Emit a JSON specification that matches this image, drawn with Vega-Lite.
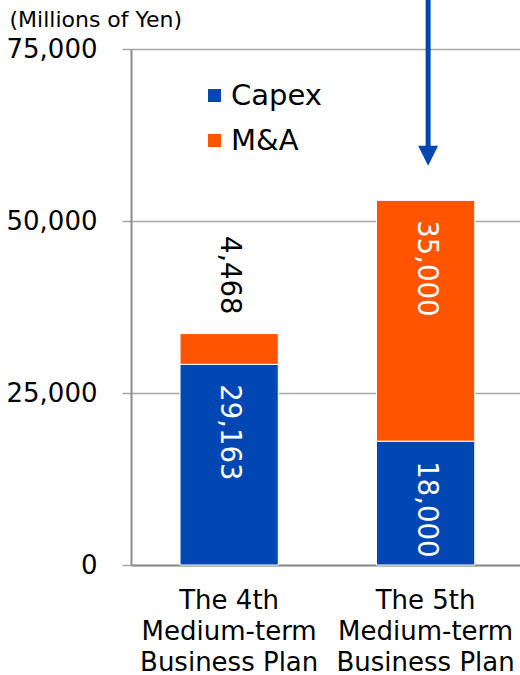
{
  "$schema": "https://vega.github.io/schema/vega-lite/v6.json",
  "autosize": "none",
  "width": 389,
  "height": 516,
  "padding": {"left": 131, "top": 49, "right": 0, "bottom": 110},
  "background": "white",
  "config": {
    "view": {"stroke": null},
    "font": "DejaVu Sans",
    "axis": {"labelFont": "DejaVu Sans", "titleFont": "DejaVu Sans"},
    "legend": {"labelFont": "DejaVu Sans"}
  },
  "datasets": {
    "plans": [
      {"plan": "The 4th Medium-term Business Plan", "type": "Capex", "value": 29163},
      {"plan": "The 4th Medium-term Business Plan", "type": "M&A", "value": 4468},
      {"plan": "The 5th Medium-term Business Plan", "type": "Capex", "value": 18000},
      {"plan": "The 5th Medium-term Business Plan", "type": "M&A", "value": 35000}
    ],
    "arrow": [
      {"plan": "The 5th Medium-term Business Plan", "top": 85000, "bottom": 60800, "tip": 59500}
    ]
  },
  "layer": [
    {
      "data": {"name": "plans"},
      "transform": [
        {"stack": "value", "groupby": ["plan"], "sort": [{"field": "type", "order": "ascending"}], "as": ["y0", "y1"]}
      ],
      "mark": {"type": "bar", "stroke": "white", "strokeWidth": 1},
      "encoding": {
        "x": {
          "field": "plan", "type": "nominal",
          "scale": {"paddingInner": 0.5, "paddingOuter": 0.24, "align": 0.52},
          "axis": {
            "title": null, "labelAngle": 0, "ticks": false, "domain": true,
            "domainColor": "#8c8c8c", "domainWidth": 2,
            "labelFontSize": 26, "labelColor": "#000000", "labelPadding": 22,
            "labelLineHeight": 31, "labelBaseline": "top",
            "labelExpr": "[slice(datum.label,0,7), slice(datum.label,8,19), slice(datum.label,20)]"
          }
        },
        "y": {
          "field": "y0", "type": "quantitative",
          "scale": {"domain": [0, 75000], "nice": false},
          "axis": {
            "values": [0, 25000, 50000, 75000], "format": ",.0f",
            "grid": true, "gridColor": "#a6a6a6", "gridWidth": 1.5,
            "domainColor": "#8c8c8c", "domainWidth": 2,
            "tickColor": "#a6a6a6", "tickSize": 9, "tickWidth": 1.5,
            "labelFontSize": 26, "labelColor": "#000000", "labelPadding": 25,
            "title": "(Millions of Yen)", "titleAngle": 0, "titleAlign": "left",
            "titleBaseline": "alphabetic", "titleX": -122, "titleY": -23,
            "titleFontSize": 22, "titleFontWeight": "normal", "titleColor": "#000000"
          }
        },
        "y2": {"field": "y1"},
        "color": {
          "field": "type", "type": "nominal",
          "scale": {"domain": ["Capex", "M&A"], "range": ["#0047B4", "#FF5500"]},
          "legend": {
            "title": null, "orient": "none", "legendX": 69, "legendY": 32,
            "padding": 0, "symbolType": "square", "symbolSize": 169,
            "symbolStrokeWidth": 0, "labelFontSize": 29, "labelColor": "#000000",
            "labelOffset": 2, "rowPadding": 15
          }
        }
      }
    },
    {
      "data": {"name": "plans"},
      "transform": [
        {"stack": "value", "groupby": ["plan"], "sort": [{"field": "type", "order": "ascending"}], "as": ["y0", "y1"]},
        {"filter": "!(datum.type == 'M&A' && datum.value < 10000)"}
      ],
      "mark": {"type": "text", "angle": 90, "align": "left", "baseline": "middle", "dx": 20, "fontSize": 27.5, "color": "#ffffff"},
      "encoding": {
        "x": {"field": "plan", "type": "nominal"},
        "y": {"field": "y1", "type": "quantitative"},
        "text": {"field": "value", "type": "quantitative", "format": ","}
      }
    },
    {
      "data": {"name": "plans"},
      "transform": [
        {"stack": "value", "groupby": ["plan"], "sort": [{"field": "type", "order": "ascending"}], "as": ["y0", "y1"]},
        {"filter": "datum.type == 'M&A' && datum.value < 10000"}
      ],
      "mark": {"type": "text", "angle": 90, "align": "right", "baseline": "middle", "dx": -19, "fontSize": 27.5, "color": "#000000"},
      "encoding": {
        "x": {"field": "plan", "type": "nominal"},
        "y": {"field": "y1", "type": "quantitative"},
        "text": {"field": "value", "type": "quantitative", "format": ","}
      }
    },
    {
      "data": {"name": "arrow"},
      "mark": {"type": "rule", "color": "#0047B4", "strokeWidth": 5, "xOffset": 2.5},
      "encoding": {
        "x": {"field": "plan", "type": "nominal"},
        "y": {"field": "top", "type": "quantitative"},
        "y2": {"field": "bottom"}
      }
    },
    {
      "data": {"name": "arrow"},
      "mark": {"type": "point", "shape": "M-1,-1L1,-1L0,1Z", "filled": true, "size": 400, "color": "#0047B4", "opacity": 1, "xOffset": 2.5},
      "encoding": {
        "x": {"field": "plan", "type": "nominal"},
        "y": {"field": "tip", "type": "quantitative"}
      }
    }
  ]
}
